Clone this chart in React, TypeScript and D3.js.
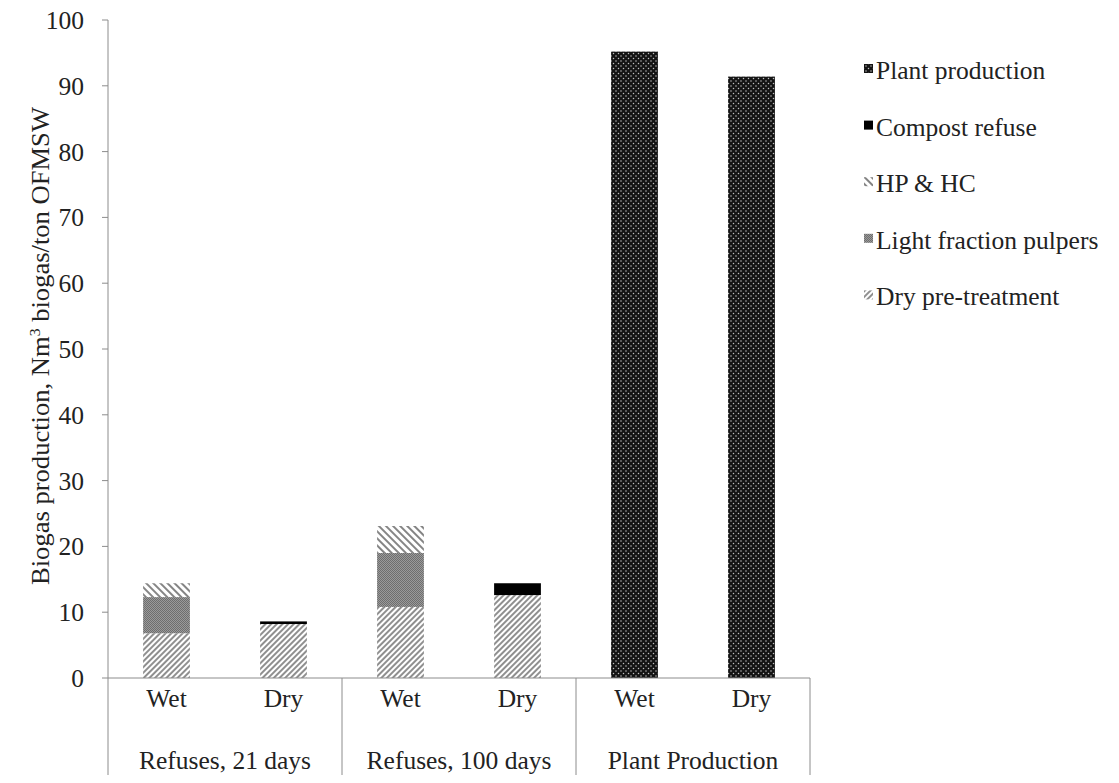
import React from "react";
import * as d3 from "d3";

const groups = ["Refuses, 21 days", "Refuses, 100 days", "Plant Production"];
const subCats = ["Wet", "Dry"];
const seriesNames = ["Dry pre-treatment", "Light fraction pulpers", "HP & HC", "Compost refuse", "Plant production"];
// values per bar (group-subcat order)
const dryPreTreatment = [6.8, 8.2, 10.8, 12.6, 0, 0];
const lightFractionPulpers = [5.5, 0, 8.2, 0, 0, 0];
const hpHc = [2.1, 0, 4.1, 0, 0, 0];
const compostRefuse = [0, 0.4, 0, 1.8, 0, 0];
const plantProduction = [0, 0, 0, 0, 95.2, 91.4];
const yTicks = [0, 10, 20, 30, 40, 50, 60, 70, 80, 90, 100];
const legendOrder = ["Plant production", "Compost refuse", "HP & HC", "Light fraction pulpers", "Dry pre-treatment"];

const fills: Record<string, string> = {
  "Dry pre-treatment": "url(#pDry)",
  "Light fraction pulpers": "url(#pLight)",
  "HP & HC": "url(#pHP)",
  "Compost refuse": "#000",
  "Plant production": "url(#pPlant)",
};

export default function App() {
  const W = 1119, H = 783;
  const left = 108, right = 810, top = 20, bottom = 678;
  const font = "'Liberation Serif', 'Times New Roman', serif";
  const fs = 25.5;
  const y = d3.scaleLinear().domain([0, 100]).range([bottom, top]);
  const barKeys = groups.flatMap((g) => subCats.map((s) => g + "|" + s));
  const x = d3.scaleBand().domain(barKeys).range([left, right]).paddingInner(0.6).paddingOuter(0.3);
  const xg = d3.scaleBand().domain(groups).range([left, right]);
  const table = barKeys.map((k, i) => ({
    key: k,
    "Dry pre-treatment": dryPreTreatment[i],
    "Light fraction pulpers": lightFractionPulpers[i],
    "HP & HC": hpHc[i],
    "Compost refuse": compostRefuse[i],
    "Plant production": plantProduction[i],
  }));
  const stack = d3.stack<any>().keys(seriesNames)(table);
  const axisColor = "#8c8c8c";

  return (
    <svg width={W} height={H} style={{ display: "block", position: "absolute", left: 0, top: 0 }}>
      <defs>
        <pattern id="pDry" width="4" height="4" patternUnits="userSpaceOnUse" patternTransform="rotate(45)">
          <rect width="4" height="4" fill="#fff" />
          <line x1="1" y1="0" x2="1" y2="4" stroke="#6a6a6a" strokeWidth="1.5" />
        </pattern>
        <pattern id="pHP" width="5" height="5" patternUnits="userSpaceOnUse" patternTransform="rotate(-45)">
          <rect width="5" height="5" fill="#fff" />
          <line x1="1" y1="0" x2="1" y2="5" stroke="#777" strokeWidth="1.8" />
        </pattern>
        <pattern id="pLight" width="2" height="2" patternUnits="userSpaceOnUse">
          <rect width="2" height="2" fill="#9a9a9a" />
          <rect width="1" height="1" fill="#6e6e6e" />
          <rect x="1" y="1" width="1" height="1" fill="#6e6e6e" />
        </pattern>
        <pattern id="pPlant" width="5" height="5" patternUnits="userSpaceOnUse">
          <rect width="5" height="5" fill="#141414" />
          <circle cx="1" cy="1" r="0.75" fill="#c0c0c0" />
          <circle cx="3.5" cy="3.5" r="0.75" fill="#c0c0c0" />
        </pattern>
      </defs>

      {/* bars */}
      {stack.map((layer) => (
        <g key={layer.key} fill={fills[layer.key]}>
          {layer.map((d, i) =>
            d[1] - d[0] > 0 ? (
              <rect key={i} x={x(barKeys[i])} width={x.bandwidth()} y={y(d[1])} height={y(d[0]) - y(d[1])} />
            ) : null
          )}
        </g>
      ))}

      {/* y axis */}
      <line x1={left} x2={left} y1={top} y2={775} stroke={axisColor} strokeWidth={1} />
      {yTicks.map((t) => (
        <g key={t}>
          <line x1={left - 6} x2={left} y1={y(t)} y2={y(t)} stroke={axisColor} />
          <text x={84} y={y(t)} dy="0.35em" textAnchor="end" fontFamily={font} fontSize={fs} fill="#222">
            {t}
          </text>
        </g>
      ))}
      {/* x axis */}
      <line x1={left} x2={right} y1={bottom} y2={bottom} stroke={axisColor} />
      {groups.map((g) => (
        <g key={g}>
          <line x1={(xg(g) as number) + xg.bandwidth()} x2={(xg(g) as number) + xg.bandwidth()} y1={bottom} y2={775} stroke={axisColor} />
          <text x={(xg(g) as number) + xg.bandwidth() / 2} y={760} dy="0.35em" textAnchor="middle" fontFamily={font} fontSize={fs} fill="#222">
            {g}
          </text>
        </g>
      ))}
      {barKeys.map((k) => (
        <text key={k} x={(x(k) as number) + x.bandwidth() / 2} y={698} dy="0.35em" textAnchor="middle" fontFamily={font} fontSize={fs} fill="#222">
          {k.split("|")[1]}
        </text>
      ))}

      {/* y title */}
      <text transform={`translate(40,${(top + bottom) / 2 - 3}) rotate(-90)`} textAnchor="middle" dy="0.35em" fontFamily={font} fontSize={fs} fill="#222" textLength={478} lengthAdjust="spacingAndGlyphs">
        Biogas production, Nm<tspan dy="-9" fontSize={15}>3</tspan>
        <tspan dy="9"> biogas/ton OFMSW</tspan>
      </text>

      {/* legend */}
      {legendOrder.map((name, i) => {
        const cy = 70 + i * 56.6;
        return (
          <g key={name}>
            <rect x={864} y={cy - 6} width={9} height={9} fill={fills[name]} />
            <text x={876} y={cy} dy="0.35em" fontFamily={font} fontSize={fs} fill="#222">
              {name}
            </text>
          </g>
        );
      })}
    </svg>
  );
}
